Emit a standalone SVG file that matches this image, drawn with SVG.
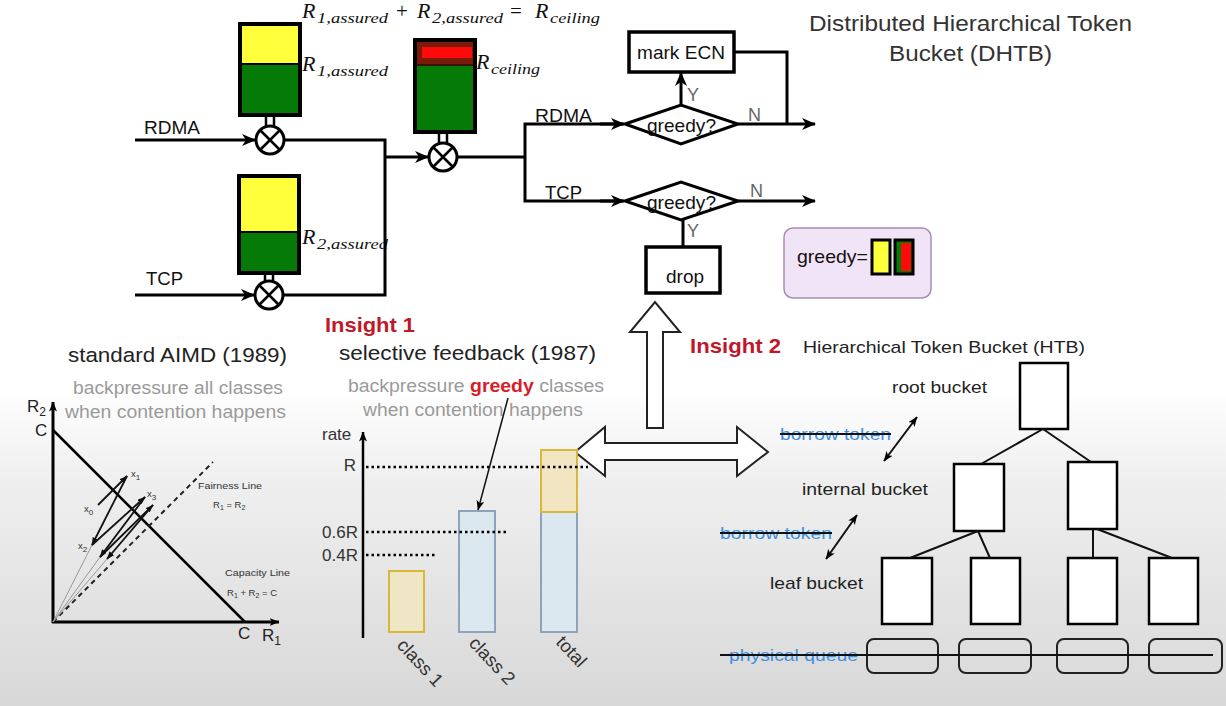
<svg xmlns="http://www.w3.org/2000/svg" width="1226" height="706" viewBox="0 0 1226 706">
<defs>
<linearGradient id="bg" x1="0" y1="0" x2="0" y2="706" gradientUnits="userSpaceOnUse">
<stop offset="0" stop-color="#ffffff"/>
<stop offset="0.55" stop-color="#ffffff"/>
<stop offset="0.68" stop-color="#efefef"/>
<stop offset="1" stop-color="#d8d8d8"/>
</linearGradient>
<marker id="arr" viewBox="0 0 14 12" refX="13" refY="6" markerWidth="14" markerHeight="12" markerUnits="userSpaceOnUse" orient="auto">
<path d="M0,0 L14,6 L0,12 L4,6 z" fill="#000"/>
</marker>
<marker id="sm" viewBox="0 0 10 8" refX="9.5" refY="4" markerWidth="10" markerHeight="8" markerUnits="userSpaceOnUse" orient="auto-start-reverse">
<path d="M0,0 L10,4 L0,8 L2.5,4 z" fill="#000"/>
</marker>
<marker id="xs" viewBox="0 0 8 6" refX="7.5" refY="3" markerWidth="8" markerHeight="6" markerUnits="userSpaceOnUse" orient="auto">
<path d="M0,0 L8,3 L0,6 z" fill="#111"/>
</marker>
<style>
.ln{stroke:#000;stroke-width:3;fill:none}
.sans{font-family:"Liberation Sans",Arial,sans-serif}
.math{font-family:"Liberation Serif","Times New Roman",serif;font-style:italic;fill:#111}
.op{font-family:"Liberation Serif","Times New Roman",serif;fill:#111;font-size:21px}
.R{font-size:22px}
.s{font-size:15px}
.lbl{font-family:"Liberation Sans",Arial,sans-serif;font-size:18.5px;fill:#111}
.gy{font-family:"Liberation Sans",Arial,sans-serif;font-size:18px;fill:#666}
.sub{font-family:"Liberation Sans",Arial,sans-serif;font-size:17.5px;fill:#9a9a9a}
.hd{font-family:"Liberation Sans",Arial,sans-serif;font-size:20.5px;fill:#222}
.ins{font-family:"Liberation Sans",Arial,sans-serif;font-size:21px;font-weight:bold;fill:#c0182a}
.htb{font-family:"Liberation Sans",Arial,sans-serif;font-size:17px;fill:#222}
.blue{font-family:"Liberation Sans",Arial,sans-serif;font-size:17px;fill:#3d8fe0}
.tiny{font-family:"Liberation Sans",Arial,sans-serif;font-size:9.5px;fill:#333}
.box{fill:#fff;stroke:#000;stroke-width:2.5}
.q{fill:none;stroke:#222;stroke-width:2}
.grn{fill:#067a06}
.yel{fill:#ffff3c}
.dot{stroke:#000;stroke-width:2.5;stroke-dasharray:2.5 3;fill:none}
.valve{fill:#fff;stroke:#000;stroke-width:3}
.hollow{fill:#fff;stroke:#222;stroke-width:2}
.rot{font-family:"Liberation Sans",Arial,sans-serif;font-size:18.5px;fill:#333}
</style>
</defs>
<rect x="0" y="0" width="1226" height="706" fill="url(#bg)"/>

<!-- Title -->
<g id="title">
<text class="sans" x="809" y="31" font-size="22" fill="#333" textLength="323" lengthAdjust="spacingAndGlyphs">Distributed Hierarchical Token</text>
<text class="sans" x="889" y="61" font-size="22" fill="#333" textLength="163" lengthAdjust="spacingAndGlyphs">Bucket (DHTB)</text>
</g>

<g id="equation">
<text class="math R" x="302" y="18">R</text>
<text class="math s" x="317" y="23" textLength="71" lengthAdjust="spacingAndGlyphs">1,assured</text>
<text class="op" x="396" y="18">+</text>
<text class="math R" x="417" y="18">R</text>
<text class="math s" x="432" y="23" textLength="71" lengthAdjust="spacingAndGlyphs">2,assured</text>
<text class="op" x="510" y="18">=</text>
<text class="math R" x="535" y="18">R</text>
<text class="math s" x="550" y="23" textLength="50" lengthAdjust="spacingAndGlyphs">ceiling</text>
</g>

<!-- Bucket 1 (RDMA) -->
<g id="bucket1">
<rect class="yel" x="240" y="24" width="60" height="40"/>
<rect class="grn" x="240" y="64" width="60" height="51"/>
<line x1="240" y1="64" x2="300" y2="64" stroke="#000" stroke-width="2"/>
<rect x="240" y="24" width="60" height="91" fill="none" stroke="#000" stroke-width="4"/>
<line x1="266" y1="115" x2="266" y2="127" stroke="#000" stroke-width="2.5"/>
<line x1="274" y1="115" x2="274" y2="127" stroke="#000" stroke-width="2.5"/>
<circle class="valve" cx="270" cy="140" r="14"/>
<path d="M260,130 L280,150 M280,130 L260,150" stroke="#000" stroke-width="2.5"/>
<text class="math R" x="302" y="71">R</text>
<text class="math s" x="317" y="76" textLength="71" lengthAdjust="spacingAndGlyphs">1,assured</text>
</g>

<!-- Bucket 2 (TCP) -->
<g id="bucket2">
<rect class="yel" x="239" y="176" width="60" height="56"/>
<rect class="grn" x="239" y="232" width="60" height="41"/>
<line x1="239" y1="232" x2="299" y2="232" stroke="#000" stroke-width="2"/>
<rect x="239" y="176" width="60" height="97" fill="none" stroke="#000" stroke-width="4"/>
<line x1="265" y1="273" x2="265" y2="282" stroke="#000" stroke-width="2.5"/>
<line x1="273" y1="273" x2="273" y2="282" stroke="#000" stroke-width="2.5"/>
<circle class="valve" cx="269" cy="295" r="14"/>
<path d="M259,285 L279,305 M279,285 L259,305" stroke="#000" stroke-width="2.5"/>
<text class="math R" x="302" y="244">R</text>
<text class="math s" x="317" y="249" textLength="71" lengthAdjust="spacingAndGlyphs">2,assured</text>
</g>

<!-- Ceiling bucket -->
<g id="ceiling">
<rect class="grn" x="415" y="40" width="60" height="92"/>
<rect x="415" y="40" width="60" height="25" fill="#7a1a08"/>
<rect x="422" y="47" width="50" height="11" fill="#ff0a0a"/>
<line x1="415" y1="65" x2="475" y2="65" stroke="#3a1000" stroke-width="2"/>
<rect x="415" y="40" width="60" height="92" fill="none" stroke="#000" stroke-width="4"/>
<line x1="439" y1="132" x2="439" y2="144" stroke="#000" stroke-width="2.5"/>
<line x1="447" y1="132" x2="447" y2="144" stroke="#000" stroke-width="2.5"/>
<circle class="valve" cx="443" cy="157" r="14"/>
<path d="M433,147 L453,167 M453,147 L433,167" stroke="#000" stroke-width="2.5"/>
<text class="math R" x="476" y="69">R</text>
<text class="math s" x="491" y="74" textLength="49" lengthAdjust="spacingAndGlyphs">ceiling</text>
</g>

<!-- Decision diamonds and boxes -->
<g id="greedy1">
<polygon points="625,124 681,105 738,124 681,144" fill="#fff" stroke="#000" stroke-width="3"/>
<text class="lbl" x="647" y="132" font-size="19" textLength="69" lengthAdjust="spacingAndGlyphs">greedy?</text>
</g>
<g id="greedy2">
<polygon points="625,201 681,182 738,201 681,220" fill="#fff" stroke="#000" stroke-width="3"/>
<text class="lbl" x="647" y="209" font-size="19" textLength="69" lengthAdjust="spacingAndGlyphs">greedy?</text>
</g>
<g id="markecn">
<rect x="629" y="32" width="105" height="40" fill="#fff" stroke="#000" stroke-width="3.5"/>
<text class="lbl" x="637" y="59" font-size="19" textLength="88" lengthAdjust="spacingAndGlyphs">mark ECN</text>
</g>
<g id="drop">
<rect x="646" y="247" width="74" height="46" fill="#fff" stroke="#000" stroke-width="3.5"/>
<text class="lbl" x="666" y="283" font-size="19" textLength="38" lengthAdjust="spacingAndGlyphs">drop</text>
</g>

<g id="legend">
<rect x="784" y="228" width="147" height="70" rx="9" fill="#f1e4f6" stroke="#a88cb4" stroke-width="1.5"/>
<text class="lbl" x="797" y="263" fill="#333" textLength="71" lengthAdjust="spacingAndGlyphs">greedy=</text>
<rect x="872" y="240" width="18" height="34" fill="#ffff3c" stroke="#000" stroke-width="3"/>
<rect x="895" y="240" width="18" height="34" fill="#067a06" stroke="#000" stroke-width="3"/>
<rect x="901" y="243" width="10" height="28" fill="#ff0a0a"/>
</g>

<!-- Connectors (top) -->
<g id="connectors">
<line class="ln" x1="135" y1="140" x2="255" y2="140" marker-end="url(#arr)"/>
<line class="ln" x1="135" y1="295" x2="254" y2="295" marker-end="url(#arr)"/>
<polyline class="ln" points="284,140 385,140 385,295 283,295"/>
<line class="ln" x1="385" y1="157" x2="428" y2="157" marker-end="url(#arr)"/>
<line class="ln" x1="457" y1="157" x2="525" y2="157"/>
<polyline class="ln" points="623,124 525,124 525,201 623,201"/>
<line class="ln" x1="600" y1="124" x2="624" y2="124" marker-end="url(#arr)"/>
<line class="ln" x1="600" y1="201" x2="624" y2="201" marker-end="url(#arr)"/>
<line class="ln" x1="681" y1="105" x2="681" y2="73" marker-end="url(#arr)"/>
<polyline class="ln" points="734,52 787,52 787,124"/>
<line class="ln" x1="738" y1="124" x2="815" y2="124" marker-end="url(#arr)"/>
<line class="ln" x1="738" y1="201" x2="815" y2="201" marker-end="url(#arr)"/>
<line class="ln" x1="683" y1="220" x2="683" y2="247"/>
</g>

<g id="flowlabels">
<text class="lbl" x="144" y="134" textLength="56" lengthAdjust="spacingAndGlyphs">RDMA</text>
<text class="lbl" x="146" y="285" textLength="37" lengthAdjust="spacingAndGlyphs">TCP</text>
<text class="lbl" x="535" y="122" textLength="57" lengthAdjust="spacingAndGlyphs">RDMA</text>
<text class="lbl" x="545" y="199" textLength="37" lengthAdjust="spacingAndGlyphs">TCP</text>
<text class="gy" x="687" y="101">Y</text>
<text class="gy" x="748" y="121">N</text>
<text class="gy" x="750" y="197">N</text>
<text class="gy" x="687" y="237">Y</text>
</g>

<!-- Hollow arrows -->
<g id="bigarrows">
<polygon class="hollow" points="647,428 647,332 630,332 655,302 680,332 663,332 663,428"/>
<polygon class="hollow" points="575,452 605,427 605,443 737,443 737,427 768,452 737,476 737,460 605,460 605,476"/>
</g>

<g id="insights">
<text class="ins" x="325" y="332" textLength="90" lengthAdjust="spacingAndGlyphs">Insight 1</text>
<text class="ins" x="690" y="353" textLength="91" lengthAdjust="spacingAndGlyphs">Insight 2</text>
</g>

<!-- AIMD panel -->
<g id="aimd">
<text class="hd" x="68" y="362" textLength="219" lengthAdjust="spacingAndGlyphs">standard AIMD (1989)</text>
<text class="sub" x="73" y="394" textLength="210" lengthAdjust="spacingAndGlyphs">backpressure all classes</text>
<text class="sub" x="65" y="418" textLength="221" lengthAdjust="spacingAndGlyphs">when contention happens</text>
<line x1="53" y1="623" x2="53" y2="402" stroke="#000" stroke-width="3" marker-end="url(#sm)"/>
<line x1="52" y1="622" x2="279" y2="622" stroke="#000" stroke-width="3" marker-end="url(#sm)"/>
<line x1="53" y1="430" x2="245" y2="622" stroke="#000" stroke-width="2.5"/>
<line x1="53" y1="622" x2="213" y2="462" stroke="#222" stroke-width="2" stroke-dasharray="5 4"/>
<g stroke="#999" stroke-width="1">
<line x1="53" y1="622" x2="92" y2="545"/>
<line x1="53" y1="622" x2="100" y2="557"/>
<line x1="53" y1="622" x2="107" y2="559"/>
</g>
<g stroke="#111" stroke-width="1.8" fill="none">
<line x1="98" y1="505" x2="127" y2="476" marker-end="url(#xs)"/>
<line x1="127" y1="476" x2="92" y2="545" marker-end="url(#xs)"/>
<line x1="92" y1="545" x2="145" y2="497" marker-end="url(#xs)"/>
<line x1="145" y1="497" x2="100" y2="557" marker-end="url(#xs)"/>
<line x1="100" y1="557" x2="153" y2="505" marker-end="url(#xs)"/>
<line x1="153" y1="505" x2="107" y2="559" marker-end="url(#xs)"/>
</g>
<text class="tiny" x="84" y="512" font-size="11">x<tspan font-size="8" dy="3">0</tspan></text>
<text class="tiny" x="131" y="477" font-size="11">x<tspan font-size="8" dy="3">1</tspan></text>
<text class="tiny" x="78" y="549" font-size="11">x<tspan font-size="8" dy="3">2</tspan></text>
<text class="tiny" x="147" y="497" font-size="11">x<tspan font-size="8" dy="3">3</tspan></text>
<text class="tiny" x="198" y="489" textLength="64" lengthAdjust="spacingAndGlyphs">Fairness Line</text>
<text class="tiny" x="213" y="508">R<tspan font-size="7" dy="2">1</tspan><tspan dy="-2"> = R</tspan><tspan font-size="7" dy="2">2</tspan></text>
<text class="tiny" x="225" y="576" textLength="65" lengthAdjust="spacingAndGlyphs">Capacity Line</text>
<text class="tiny" x="227" y="596">R<tspan font-size="7" dy="2">1</tspan><tspan dy="-2"> + R</tspan><tspan font-size="7" dy="2">2</tspan><tspan dy="-2"> = C</tspan></text>
<text class="sans" x="27" y="412" font-size="17" fill="#222">R<tspan font-size="12" dy="4">2</tspan></text>
<text class="sans" x="35" y="436" font-size="17" fill="#222">C</text>
<text class="sans" x="238" y="639" font-size="17" fill="#222">C</text>
<text class="sans" x="262" y="641" font-size="17" fill="#222">R<tspan font-size="12" dy="4">1</tspan></text>
</g>

<!-- Selective feedback chart -->
<g id="chart">
<text class="hd" x="339" y="360" textLength="257" lengthAdjust="spacingAndGlyphs">selective feedback (1987)</text>
<text class="sub" x="348" y="392" textLength="256" lengthAdjust="spacingAndGlyphs">backpressure <tspan fill="#d91e2a" font-weight="bold">greedy</tspan> classes</text>
<text class="sub" x="363" y="416" textLength="220" lengthAdjust="spacingAndGlyphs">when contention happens</text>
<line x1="363" y1="638" x2="363" y2="432" stroke="#000" stroke-width="2.5" marker-end="url(#sm)"/>
<text class="sans" x="322" y="440" font-size="17" fill="#333">rate</text>
<text class="sans" x="356" y="471" font-size="17" fill="#333" text-anchor="end">R</text>
<text class="sans" x="358" y="538" font-size="17" fill="#333" text-anchor="end">0.6R</text>
<text class="sans" x="358" y="561" font-size="17" fill="#333" text-anchor="end">0.4R</text>
<rect x="389" y="571" width="35" height="61" fill="#efe6c6" stroke="#d9b738" stroke-width="2"/>
<rect x="459" y="511" width="36" height="121" fill="#dbe8f0" stroke="#8ea3ba" stroke-width="2"/>
<rect x="541" y="512" width="36" height="120" fill="#dbe8f0" stroke="#8ea3ba" stroke-width="2"/>
<rect x="541" y="450" width="36" height="62" fill="#f2e6c2" stroke="#d9b738" stroke-width="2"/>
<line class="dot" x1="366" y1="467" x2="588" y2="467"/>
<line class="dot" x1="366" y1="532" x2="507" y2="532"/>
<line class="dot" x1="366" y1="555" x2="435" y2="555"/>
<line x1="508" y1="398" x2="478" y2="510" stroke="#111" stroke-width="1.5" marker-end="url(#sm)"/>
<text class="rot" transform="translate(396,646) rotate(47)">class 1</text>
<text class="rot" transform="translate(468,644) rotate(47)">class 2</text>
<text class="rot" transform="translate(555,643) rotate(47)">total</text>
</g>

<!-- HTB -->
<g id="htb-title">
<text class="htb" x="803" y="353" textLength="282" lengthAdjust="spacingAndGlyphs">Hierarchical Token Bucket (HTB)</text>
<text class="htb" x="892" y="393" textLength="95" lengthAdjust="spacingAndGlyphs">root bucket</text>
<text class="htb" x="802" y="495" textLength="126" lengthAdjust="spacingAndGlyphs">internal bucket</text>
<text class="htb" x="770" y="589" textLength="93" lengthAdjust="spacingAndGlyphs">leaf bucket</text>
</g>
<g id="borrow1">
<text class="blue" x="780" y="440" textLength="111" lengthAdjust="spacingAndGlyphs">borrow token</text>
<line x1="780" y1="434" x2="891" y2="434" stroke="#111" stroke-width="1.8"/>
</g>
<g id="borrow2">
<text class="blue" x="720" y="539" textLength="112" lengthAdjust="spacingAndGlyphs">borrow token</text>
<line x1="720" y1="533" x2="832" y2="533" stroke="#111" stroke-width="1.8"/>
</g>
<g id="root"><rect class="box" x="1020" y="363" width="48" height="66"/></g>
<g id="int1"><rect class="box" x="954" y="464" width="50" height="67"/></g>
<g id="int2"><rect class="box" x="1068" y="462" width="49" height="67"/></g>
<g id="leaf1"><rect class="box" x="882" y="558" width="50" height="66"/></g>
<g id="leaf2"><rect class="box" x="971" y="558" width="49" height="66"/></g>
<g id="leaf3"><rect class="box" x="1068" y="558" width="49" height="66"/></g>
<g id="leaf4"><rect class="box" x="1149" y="558" width="49" height="66"/></g>
<g id="queues">
<rect class="q" x="867" y="639" width="71" height="34" rx="7"/>
<rect class="q" x="959" y="639" width="72" height="34" rx="7"/>
<rect class="q" x="1057" y="639" width="71" height="34" rx="7"/>
<rect class="q" x="1149" y="639" width="73" height="34" rx="7"/>
<text class="blue" x="729" y="661" textLength="129" lengthAdjust="spacingAndGlyphs">physical queue</text>
</g>
<g id="htb-connectors" stroke="#111" stroke-width="2" fill="none">
<line x1="1043" y1="429" x2="981" y2="464"/>
<line x1="1043" y1="429" x2="1091" y2="462"/>
<line x1="978" y1="531" x2="910" y2="558"/>
<line x1="978" y1="531" x2="990" y2="558"/>
<line x1="1093" y1="529" x2="1093" y2="558"/>
<line x1="1097" y1="529" x2="1172" y2="558"/>
<line x1="720" y1="655" x2="1213" y2="655"/>
<line x1="884" y1="461" x2="917" y2="417" marker-start="url(#sm)" marker-end="url(#sm)"/>
<line x1="826" y1="559" x2="857" y2="515" marker-start="url(#sm)" marker-end="url(#sm)"/>
</g>
</svg>
